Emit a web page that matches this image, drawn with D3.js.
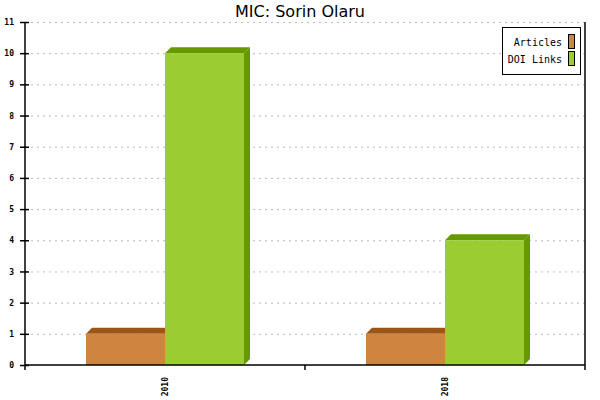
<!DOCTYPE html>
<html>
<head>
<meta charset="utf-8">
<script src="https://cdn.jsdelivr.net/npm/d3@7"></script>
<style>
  body { margin: 0; background: #fff; }
  svg text { font-family: "DejaVu Sans Mono", monospace; }
</style>
</head>
<body>
<div id="chart"></div>
<script>
var years = ["2010", "2018"];
var seriesNames = ["Articles", "DOI Links"];
var articles = [1, 1];
var doiLinks = [10, 4];
var yTicks = [0, 1, 2, 3, 4, 5, 6, 7, 8, 9, 10, 11];

var front = ["#cd853f", "#9acd32"],
  shade = ["#9b5515", "#669900"],
  depth = 6;

var width = 600, height = 400,
  plotL = 25, plotR = 585, plotT = 22, plotB = 365;

var svg = d3.select("#chart").append("svg")
  .attr("width", width)
  .attr("height", height);

var x = d3.scaleBand().domain(years).range([plotL, plotR]);
var inner = d3.scaleBand().domain(seriesNames).range([0, 158]);
var y = d3.scaleLinear().domain([0, 11]).range([plotB, plotT]);

// grid
svg.append("g").selectAll("line")
  .data(yTicks.filter(function(d){ return d > 0; }))
  .enter().append("line")
  .attr("x1", plotL).attr("x2", plotR)
  .attr("y1", function(d){ return y(d) + 0.5; })
  .attr("y2", function(d){ return y(d) + 0.5; })
  .attr("stroke", "#bbb")
  .attr("stroke-dasharray", "2,4");

// bars
var rows = years.map(function(yr, i) {
  return [{s: 0, v: articles[i], yr: yr}, {s: 1, v: doiLinks[i], yr: yr}];
});
var bars = svg.append("g").selectAll("g.bar")
  .data(d3.merge(rows))
  .enter().append("g");

bars.each(function(d) {
  var g = d3.select(this);
  var x0 = x(d.yr) + (x.bandwidth() - 158) / 2 + inner(seriesNames[d.s]);
  var w = inner.bandwidth();
  var y0 = y(d.v), y1 = y(0);
  g.append("polygon")
    .attr("points", [[x0, y0], [x0 + depth, y0 - depth], [x0 + w + depth, y0 - depth], [x0 + w, y0]].join(" "))
    .attr("fill", shade[d.s]);
  g.append("polygon")
    .attr("points", [[x0 + w, y0], [x0 + w + depth, y0 - depth], [x0 + w + depth, y1 - depth], [x0 + w, y1]].join(" "))
    .attr("fill", shade[d.s]);
  g.append("rect")
    .attr("x", x0).attr("y", y0)
    .attr("width", w).attr("height", y1 - y0)
    .attr("fill", front[d.s]);
});

// axes
var yAxis = d3.axisLeft(y).tickValues(yTicks).tickSize(5).tickPadding(6);
var gy = svg.append("g").attr("transform", "translate(" + plotL + ",0)").call(yAxis);
gy.select(".domain").remove();
gy.selectAll(".tick line").attr("x1", -5).attr("x2", 4).attr("stroke-width", 1.5);
gy.selectAll("text").style("font-size", "8px").style("font-weight", "bold").attr("x", -11);

svg.append("line").attr("x1", plotL).attr("x2", plotL).attr("y1", plotT).attr("y2", plotB + 5)
  .attr("stroke", "#000").attr("stroke-width", 1.5);
svg.append("line").attr("x1", plotR).attr("x2", plotR).attr("y1", plotT).attr("y2", plotB + 5)
  .attr("stroke", "#000").attr("stroke-width", 1.5);
svg.append("line").attr("x1", plotL).attr("x2", plotR).attr("y1", plotB).attr("y2", plotB)
  .attr("stroke", "#000").attr("stroke-width", 1.5);
svg.append("line").attr("x1", (plotL + plotR) / 2).attr("x2", (plotL + plotR) / 2)
  .attr("y1", plotB).attr("y2", plotB + 5)
  .attr("stroke", "#000").attr("stroke-width", 1.5);

svg.append("g").selectAll("text")
  .data(years)
  .enter().append("text")
  .attr("transform", function(d){ return "translate(" + (x(d) + x.bandwidth() / 2 + 3) + "," + (plotB + 12) + ") rotate(-90)"; })
  .attr("text-anchor", "end")
  .style("font-size", "8px")
  .style("font-weight", "bold")
  .text(function(d){ return d; });

// title
svg.append("text")
  .attr("x", 300).attr("y", 17)
  .attr("text-anchor", "middle")
  .style("font-family", "'DejaVu Sans', sans-serif")
  .style("font-size", "16px")
  .text("MIC: Sorin Olaru");

// legend
var lg = svg.append("g");
lg.append("rect")
  .attr("x", 502.5).attr("y", 27.5).attr("width", 78).attr("height", 47)
  .attr("fill", "#fff").attr("stroke", "#000");
seriesNames.forEach(function(name, i) {
  lg.append("text")
    .attr("x", 562).attr("y", 46 + i * 17)
    .attr("text-anchor", "end")
    .style("font-size", "10px")
    .text(name);
  lg.append("rect")
    .attr("x", 568.5).attr("y", 34.5 + i * 17).attr("width", 6).attr("height", 14)
    .attr("fill", front[i]).attr("stroke", "#000");
});
</script>
</body>
</html>
